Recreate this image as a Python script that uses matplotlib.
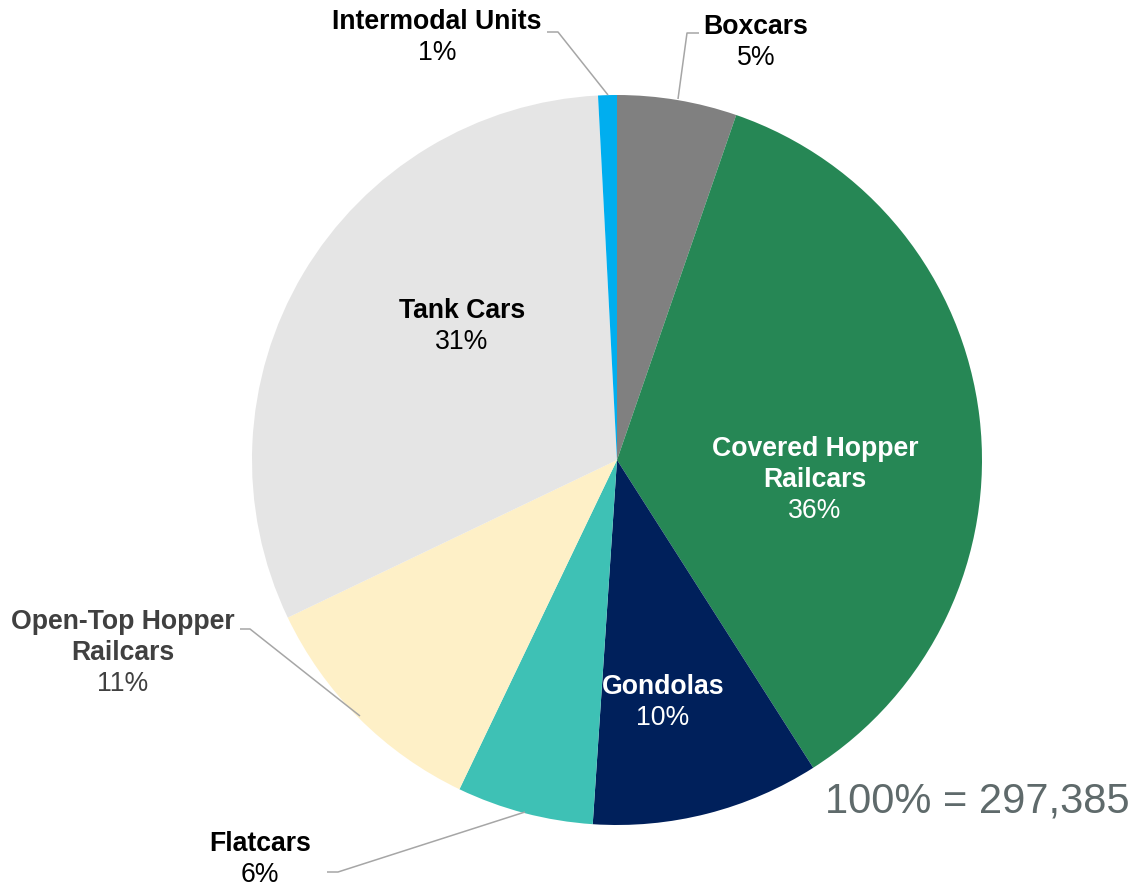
import matplotlib.pyplot as plt

plt.rcParams['font.family'] = ['Liberation Sans', 'DejaVu Sans']

# Доли по типам вагонов (по часовой стрелке от верха)
categories = ['Boxcars', 'Covered Hopper\nRailcars', 'Gondolas', 'Flatcars',
              'Open-Top Hopper\nRailcars', 'Tank Cars', 'Intermodal Units']
shares = [5.3, 35.7, 10.1, 6.05, 10.8, 31.3, 0.83]
pct_labels = ['5%', '36%', '10%', '6%', '11%', '31%', '1%']
colors = ['#808080', '#268755', '#00205B', '#3EC1B5', '#FEF0C7', '#E5E5E5', '#00AEEF']
total_label = '100% = 297,385'

H = 888


def label(ax, x, y, name, pct, color='black', line_gap=31):
    lines = name.split('\n')
    for i, ln in enumerate(lines):
        ax.text(x, H - (y + 2 + i * line_gap), ln, ha='center', va='center',
                fontsize=19.2, fontweight='bold', color=color)
    ax.text(x, H - (y + 2 + len(lines) * line_gap), pct, ha='center', va='center',
            fontsize=19.2, color=color)


def leader(ax, xs, ys):
    ax.plot(xs, [H - y for y in ys], color='#A6A6A6', lw=1.1, solid_capstyle='butt')


def main():
    fig = plt.figure(figsize=(11.37, 8.88), dpi=100)
    ax = fig.add_axes([0, 0, 1, 1])

    ax.pie(shares, colors=colors, startangle=90, counterclock=False,
           radius=365, center=(617, H - 460), frame=True)
    ax.set_xlim(0, 1137)
    ax.set_ylim(0, H)
    ax.set_aspect('equal')
    ax.axis('off')

    # Подписи
    label(ax, 756, 25, categories[0], pct_labels[0])
    label(ax, 815, 447, categories[1], pct_labels[1], color='white')
    label(ax, 663, 685, categories[2], pct_labels[2], color='white')
    label(ax, 260, 842, categories[3], pct_labels[3])
    label(ax, 123, 620, categories[4], pct_labels[4], color='#404040')
    label(ax, 462, 309, categories[5], pct_labels[5])
    label(ax, 437, 20, categories[6], pct_labels[6])

    # Выноски
    leader(ax, [678, 687, 699], [99, 33, 33])
    leader(ax, [547, 558, 608], [32, 32, 95])
    leader(ax, [240, 250, 360], [629, 629, 716])
    leader(ax, [327, 338, 525], [872, 872, 812])

    ax.text(977, H - 801, total_label, ha='center', va='center',
            fontsize=30, color='#5F6A6B')

    fig.savefig('out.png', dpi=100)


if __name__ == '__main__':
    main()
